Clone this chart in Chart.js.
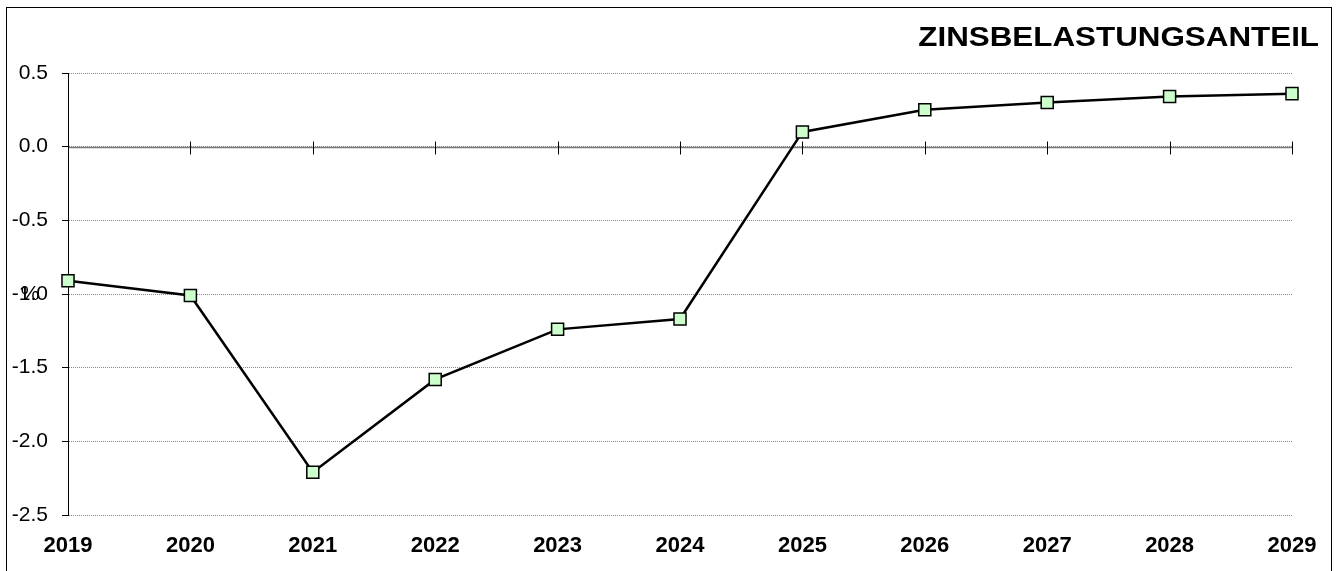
<!DOCTYPE html>
<html>
<head>
<meta charset="utf-8">
<script src="https://cdn.jsdelivr.net/npm/chart.js@4/dist/chart.umd.min.js"></script>
<style>
  html, body { margin: 0; padding: 0; background: #fff; }
  #wrap { position: relative; width: 1343px; height: 571px; overflow: hidden; }
  #frame { position: absolute; left: 6px; top: 7px; width: 1324px; height: 600px;
           border: 1px solid #000; pointer-events: none; }
  canvas { position: absolute; left: 0; top: 0; }
</style>
</head>
<body>
<div id="wrap">
  <canvas id="chart" width="1343" height="571"></canvas>
  <div id="frame"></div>
</div>
<script>
// Daten
const years  = ['2019', '2020', '2021', '2022', '2023', '2024', '2025', '2026', '2027', '2028', '2029'];
const anteil = [-0.91, -1.01, -2.21, -1.58, -1.24, -1.17, 0.10, 0.25, 0.30, 0.34, 0.36];
const yTicks = [0.5, 0.0, -0.5, -1.0, -1.5, -2.0, -2.5];
const titel  = 'ZINSBELASTUNGSANTEIL';
const yTitel = '%';

const FONT = "Arial, 'Liberation Sans', sans-serif";

// Nulllinie mit Teilstrichen, Titel und Achsenbeschriftung
const extras = {
  id: 'extras',
  beforeDatasetsDraw(chart) {
    const ctx = chart.ctx, x = chart.scales.x, y = chart.scales.y;
    const y0 = Math.round(y.getPixelForValue(0)) + 0.5;
    ctx.save();
    ctx.strokeStyle = '#7a7a7a';
    ctx.lineWidth = 1.5;
    ctx.beginPath();
    ctx.moveTo(chart.chartArea.left, y0);
    ctx.lineTo(chart.chartArea.right, y0);
    ctx.stroke();
    ctx.strokeStyle = '#000';
    ctx.lineWidth = 1;
    years.forEach((_, i) => {
      const px = Math.round(x.getPixelForValue(i)) + 0.5;
      ctx.beginPath();
      ctx.moveTo(px, y0 - 6);
      ctx.lineTo(px, y0 + 7);
      ctx.stroke();
    });
    ctx.restore();
  },
  afterDraw(chart) {
    const ctx = chart.ctx, a = chart.chartArea;
    ctx.save();
    ctx.fillStyle = '#000';
    ctx.font = 'bold 28px ' + FONT;
    ctx.textAlign = 'right';
    ctx.textBaseline = 'alphabetic';
    ctx.translate(1319, 45.5);
    ctx.scale(1.12, 1);
    ctx.fillText(titel, 0, 0);
    ctx.restore();

    ctx.save();
    ctx.fillStyle = '#000';
    ctx.font = '21px ' + FONT;
    ctx.textAlign = 'center';
    ctx.textBaseline = 'middle';
    ctx.fillText(yTitel, 30, (a.top + a.bottom) / 2);
    ctx.restore();
  }
};

new Chart(document.getElementById('chart'), {
  type: 'line',
  data: {
    labels: years,
    datasets: [{
      label: titel,
      data: anteil,
      borderColor: '#000',
      borderWidth: 2.5,
      pointStyle: 'rect',
      pointRadius: 8.5,
      pointBackgroundColor: '#ccffcc',
      pointBorderColor: '#000',
      pointBorderWidth: 1.5,
      tension: 0,
      fill: false
    }]
  },
  options: {
    responsive: false,
    animation: false,
    devicePixelRatio: 1,
    layout: { padding: { top: 73, right: 51, left: 0, bottom: 0 } },
    plugins: { legend: { display: false }, title: { display: false }, tooltip: { enabled: false } },
    scales: {
      x: {
        type: 'category',
        offset: false,
        grid: { display: false },
        border: { display: false },
        ticks: {
          color: '#000',
          font: { family: FONT, size: 22, weight: 'bold' },
          padding: 10,
          maxRotation: 0,
          autoSkip: false
        },
        afterFit(s) { s.height = 56; }
      },
      y: {
        min: -2.5,
        max: 0.5,
        afterBuildTicks(s) { s.ticks = yTicks.map(v => ({ value: v })); },
        grid: {
          color: '#8a8a8a',
          lineWidth: 1,
          tickColor: '#000',
          tickLength: 6,
          tickBorderDash: [],
          drawTicks: true
        },
        border: { display: true, color: '#000', width: 1, dash: [1, 1] },
        ticks: {
          color: '#000',
          font: { family: FONT, size: 21 },
          padding: 14,
          callback: v => Number(v).toFixed(1)
        },
        afterFit(s) { s.width = 68; }
      }
    }
  },
  plugins: [extras]
});
</script>
</body>
</html>
